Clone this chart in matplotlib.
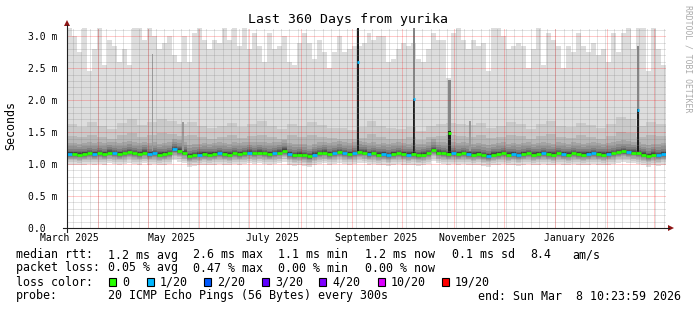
import datetime as dt
import numpy as np
import matplotlib
matplotlib.use("Agg")
import matplotlib.pyplot as plt
from matplotlib.patches import Rectangle, Polygon

plt.rcParams["font.family"] = "DejaVu Sans Mono"

W, H = 697, 310

# time span of the graph
end_time = dt.datetime(2026, 3, 8, 10, 23, 59)
span_days = 360
start_time = end_time - dt.timedelta(days=span_days)

# --- rtt data in ms, one value per 3-day bucket (120 buckets) ---
bucket_days = 3
median_ms = [1.16, 1.16, 1.15, 1.16, 1.17, 1.16, 1.17, 1.16, 1.18, 1.17,
             1.16, 1.17, 1.19, 1.17, 1.16, 1.18, 1.16, 1.17, 1.15, 1.16,
             1.17, 1.23, 1.21, 1.18, 1.13, 1.14, 1.15, 1.16, 1.15, 1.16,
             1.17, 1.16, 1.15, 1.17, 1.16, 1.17, 1.18, 1.17, 1.18, 1.17,
             1.16, 1.17, 1.18, 1.21, 1.16, 1.14, 1.15, 1.14, 1.12, 1.15,
             1.17, 1.18, 1.16, 1.17, 1.19, 1.17, 1.16, 1.17, 1.19, 1.18,
             1.16, 1.17, 1.15, 1.16, 1.14, 1.16, 1.17, 1.16, 1.15, 1.16,
             1.14, 1.15, 1.17, 1.22, 1.18, 1.17, 1.16, 1.17, 1.16, 1.17,
             1.16, 1.15, 1.16, 1.14, 1.13, 1.15, 1.16, 1.17, 1.15, 1.16,
             1.14, 1.16, 1.17, 1.15, 1.16, 1.17, 1.16, 1.15, 1.17, 1.16,
             1.15, 1.17, 1.16, 1.15, 1.16, 1.17, 1.16, 1.15, 1.16, 1.17,
             1.19, 1.20, 1.19, 1.18, 1.17, 1.15, 1.13, 1.15, 1.14, 1.16]
# lost pings (of 20) per bucket
loss_pings = [1, 0, 0, 0, 0, 1, 0, 0, 0, 1,
              0, 0, 0, 0, 0, 0, 1, 1, 0, 0,
              0, 1, 0, 0, 0, 0, 1, 0, 0, 0,
              1, 0, 0, 0, 0, 0, 1, 0, 0, 0,
              0, 1, 0, 0, 1, 0, 0, 0, 0, 1,
              0, 0, 0, 1, 0, 1, 0, 1, 0, 0,
              1, 0, 0, 1, 1, 0, 0, 0, 1, 0,
              0, 0, 0, 0, 0, 0, 0, 1, 0, 0,
              1, 0, 0, 0, 1, 0, 0, 0, 0, 1,
              1, 0, 0, 0, 0, 1, 0, 0, 0, 1,
              0, 0, 0, 0, 1, 1, 0, 0, 1, 0,
              0, 0, 1, 0, 0, 0, 0, 0, 1, 1]
max_ms = [3.20, 3.00, 2.75, 3.20, 2.45, 2.80, 3.20, 2.55, 2.95, 2.85,
          2.60, 2.80, 2.55, 3.20, 3.20, 2.95, 3.20, 3.00, 2.80, 2.90,
          3.00, 2.70, 2.60, 3.00, 2.60, 3.05, 3.20, 2.95, 2.80, 2.95,
          2.90, 3.20, 2.95, 3.20, 2.85, 3.20, 2.80, 3.05, 2.85, 2.60,
          3.05, 2.80, 2.85, 3.00, 2.60, 2.55, 2.90, 3.05, 2.90, 2.65,
          2.95, 2.75, 2.50, 2.75, 3.00, 2.75, 2.80, 2.85, 2.85, 2.90,
          3.05, 2.95, 3.00, 3.00, 2.60, 2.65, 2.80, 2.90, 2.85, 2.90,
          2.65, 2.60, 2.80, 3.05, 2.95, 2.95, 2.35, 3.05, 3.20, 2.95,
          2.80, 2.95, 2.85, 2.90, 2.45, 3.20, 3.20, 3.00, 2.80, 2.85,
          2.90, 2.85, 2.50, 2.80, 3.20, 2.55, 3.05, 2.95, 2.85, 2.50,
          2.85, 2.75, 3.05, 2.85, 2.75, 2.90, 2.70, 2.80, 2.60, 3.05,
          2.75, 3.05, 3.20, 2.80, 3.20, 3.20, 2.45, 3.20, 2.80, 2.55]

# outer smoke bands, one value per 6-day bucket (60 buckets)
band2_top = [1.62, 1.58, 1.66, 1.60, 1.55, 1.64, 1.70, 1.61, 1.66, 1.70,
             1.68, 1.62, 1.66, 1.60, 1.56, 1.60, 1.65, 1.58, 1.62, 1.67,
             1.60, 1.55, 1.63, 1.59, 1.66, 1.61, 1.57, 1.56, 1.54, 1.58,
             1.68, 1.60, 1.56, 1.55, 1.58, 1.52, 1.59, 1.62, 1.64, 1.63,
             1.61, 1.64, 1.57, 1.60, 1.66, 1.62, 1.55, 1.63, 1.68, 1.60,
             1.58, 1.64, 1.61, 1.56, 1.62, 1.73, 1.70, 1.60, 1.66, 1.62]
band3_top = [1.44, 1.42, 1.46, 1.43, 1.40, 1.45, 1.48, 1.43, 1.46, 1.48,
             1.47, 1.44, 1.46, 1.42, 1.40, 1.43, 1.46, 1.41, 1.44, 1.46,
             1.43, 1.40, 1.45, 1.42, 1.46, 1.43, 1.41, 1.40, 1.39, 1.41,
             1.47, 1.43, 1.40, 1.40, 1.42, 1.38, 1.42, 1.44, 1.45, 1.44,
             1.43, 1.45, 1.41, 1.43, 1.46, 1.44, 1.40, 1.44, 1.47, 1.43,
             1.41, 1.45, 1.43, 1.40, 1.44, 1.50, 1.48, 1.43, 1.46, 1.44]
# inner smoke bands: spread above the median (bands 4..10) and below (bands 1..10)
upper_spread = [0.17, 0.12, 0.08, 0.05, 0.035, 0.022, 0.012]
lower_spread = [0.17, 0.13, 0.10, 0.08, 0.06, 0.045, 0.035, 0.025, 0.015, 0.008]

# single-bucket spikes (day offset from start)
spike_day = [174.9, 208.5, 229.9, 343.1]
spike_median = [2.60, 2.02, 1.48, 1.84]
spike_dark_top = [3.20, 2.02, 1.52, 1.86]
spike_smoke_top = [3.20, 3.20, 2.31, 2.85]
spike_loss = [1, 1, 0, 1]
# thin grey smoke streaks
streak_day = [51.4, 69.7, 242.2]
streak_top = [2.73, 1.66, 1.67]

loss_colors = {0: "#26ff00", 1: "#00b8ff"}
legend_colors = ["#26ff00", "#00b8ff", "#0059ff", "#5e00ff", "#7e00ff", "#dd00ff", "#ff0000"]
legend_labels = ["0", "1/20", "2/20", "3/20", "4/20", "10/20", "19/20"]


def fx(x):
    return x / W


def fy(y):
    return 1 - y / H


def day_of(d):
    return (d - start_time).total_seconds() / 86400.0


fig = plt.figure(figsize=(W / 100, H / 100), dpi=100)
ax = fig.add_axes([fx(67), fy(228), 599 / W, 200 / H])
ymax = 3.13
ax.set_xlim(0, span_days)
ax.set_ylim(0, ymax)
for s in ax.spines.values():
    s.set_visible(False)

# smoke bands (smokeping grey levels)
xb = np.arange(len(median_ms) + 1) * bucket_days
med = np.array(median_ms)
uppers = [np.array(max_ms), np.repeat(band2_top, 2), np.repeat(band3_top, 2)]
uppers += [med + s for s in upper_spread]
lowers = [med - s for s in lower_spread]
greys = [int(190 / 10 * (10 - i)) + 50 for i in range(1, 11)]
for up, lo, g in zip(uppers, lowers, greys):
    ax.fill_between(xb, np.append(lo, lo[-1]), np.append(up, up[-1]), step="post",
                    color="#%02x%02x%02x" % (g, g, g), lw=0, zorder=1)

for d, top in zip(streak_day, streak_top):
    ax.bar(d, top - 1.2, bottom=1.2, width=0.7, color="#9a9a9a", lw=0, zorder=2)
for d, st, dk in zip(spike_day, spike_smoke_top, spike_dark_top):
    ax.bar(d, st - 1.18, bottom=1.18, width=1.3, color="#868686", lw=0, zorder=2)
    ax.bar(d, dk - 1.18, bottom=1.18, width=1.3, color="#1e1e1e", lw=0, zorder=2.1)

# grid
grid_ls = (0, (1, 1))
month_starts = []
m = dt.datetime(start_time.year, start_time.month, 1)
while m < end_time:
    if m > start_time:
        month_starts.append(day_of(m))
    m = dt.datetime(m.year + (m.month // 12), m.month % 12 + 1, 1)
ref = dt.datetime(2025, 4, 1)
minor_days = []
d = ref - dt.timedelta(days=30)
while d < end_time:
    if d > start_time:
        minor_days.append(day_of(d))
    d += dt.timedelta(days=5)
minor_c = (0.5, 0.5, 0.5, 0.45)
major_c = (1.0, 0.0, 0.0, 0.42)
ax.vlines(minor_days, 0, ymax, colors=[minor_c], lw=0.72, linestyles=[grid_ls], zorder=3)
ax.vlines(month_starts, 0, ymax, colors=[major_c], lw=0.72, linestyles=[grid_ls], zorder=3.1)
ygrid = np.arange(1, 32) / 10.0
ax.hlines([v for v in ygrid if round(v * 10) % 5], 0, span_days, colors=[minor_c], lw=0.72,
          linestyles=[grid_ls], zorder=3)
ax.hlines(np.arange(1, 7) * 0.5, 0, span_days, colors=[major_c], lw=0.72,
          linestyles=[grid_ls], zorder=3.1)

# median coloured by loss
ax.hlines(med, xb[:-1], xb[1:], colors=[loss_colors[l] for l in loss_pings], lw=2.0,
          capstyle="butt", zorder=4)
for d, mv, l in zip(spike_day, spike_median, spike_loss):
    ax.hlines(mv, d - 0.65, d + 0.65, colors=loss_colors[l], lw=2.0, capstyle="butt", zorder=4)

# tick labels
yt = np.arange(0, 7) * 0.5
ax.set_yticks(yt)
ax.set_yticklabels(["0.0  "] + ["%.1f m" % v for v in yt[1:]], fontsize=7)
label_months = [dt.datetime(2025, 3, 15), dt.datetime(2025, 5, 15), dt.datetime(2025, 7, 15),
                dt.datetime(2025, 9, 15), dt.datetime(2025, 11, 15), dt.datetime(2026, 1, 15)]
ax.set_xticks([day_of(x) for x in label_months])
ax.set_xticklabels([x.strftime("%B %Y") for x in label_months], fontsize=7)
ax.tick_params(axis="y", length=0, pad=7)
ax.tick_params(axis="x", length=0, pad=3.6)

# axes with arrows
axis_c = "#202020"
fig.add_artist(plt.Line2D([fx(67), fx(67)], [fy(232), fy(25)], color=axis_c, lw=0.8))
fig.add_artist(plt.Line2D([fx(63), fx(669)], [fy(228), fy(228)], color=axis_c, lw=0.8))
arrow_c = "#8e1414"
fig.add_artist(Polygon([(fx(64), fy(26)), (fx(70), fy(26)), (fx(67), fy(20))],
                       closed=True, color=arrow_c, lw=0))
fig.add_artist(Polygon([(fx(668), fy(225)), (fx(668), fy(231)), (fx(674), fy(228))],
                       closed=True, color=arrow_c, lw=0))

# titles
fig.text(fx(348), fy(19), "Last 360 Days from yurika", ha="center", va="center", fontsize=9.5)
fig.text(fx(11), fy(126), "Seconds", rotation=90, ha="center", va="center", fontsize=8.4)
fig.text(fx(688), fy(59), "RRDTOOL / TOBI OETIKER", rotation=270, ha="center", va="center",
         fontsize=5.9, color="#aaaaaa")

# legend
fs = 8.4
rows = [
    (255, [(16, "median rtt:"), (108, "1.2 ms avg"), (193, "2.6 ms max"), (278, "1.1 ms min"),
           (365, "1.2 ms now"), (452, "0.1 ms sd"), (530, "8.4"), (572, "am/s")]),
    (268, [(16, "packet loss:"), (108, "0.05 % avg"), (193, "0.47 % max"), (278, "0.00 % min"),
           (365, "0.00 % now")]),
    (296, [(16, "probe:"), (108, "20 ICMP Echo Pings (56 Bytes) every 300s"),
           (478, "end: Sun Mar  8 10:23:59 2026")]),
]
for y, items in rows:
    for x, s in items:
        fig.text(fx(x), fy(y), s, ha="left", va="center", fontsize=fs)

fig.text(fx(16), fy(282), "loss color:", ha="left", va="center", fontsize=fs)
box_x = [109, 147, 204, 262, 319, 378, 442]
for bx, c, lab in zip(box_x, legend_colors, legend_labels):
    fig.add_artist(Rectangle((fx(bx), fy(286)), 7 / W, 8 / H, facecolor=c,
                             edgecolor="black", lw=0.8))
    fig.text(fx(bx + 13), fy(282), lab, ha="left", va="center", fontsize=fs)

fig.savefig("out.png", dpi=100, facecolor="white")
